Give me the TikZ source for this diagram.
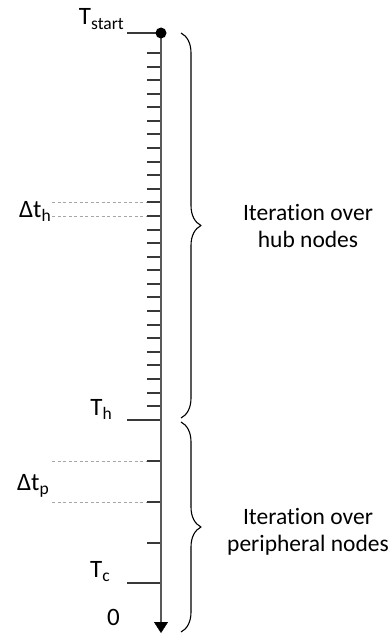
\documentclass[tikz,border=0pt]{standalone}
\usepackage{fontspec}
\setmainfont{Carlito}[Ligatures=NoCommon]
\usetikzlibrary{arrows.meta,decorations.pathreplacing}
\newcommand{\lowidx}[1]{\raisebox{-4.5pt}{\fontsize{17.5}{17.5}\selectfont #1}}
\tikzset{
	axisline/.style={line width=2.2, color=black!65},
	tickmark/.style={line width=2, color=black!78},
	gapline/.style={line width=0.8, color=black!35, dash pattern=on 3pt off 2.5pt},
	curly/.style={decorate, decoration={brace, amplitude=20pt}, line width=1.1},
	lab/.style={inner sep=0, font=\fontsize{23.5}{27}\selectfont},
	timelab/.style={inner sep=0, font=\fontsize{25}{27}\selectfont},
}
\begin{document}
		\begin{tikzpicture}[x=1pt, y=-1pt, line join=round, >=stealth]
			\useasboundingbox (0,0) rectangle (388,634);
			% ticks of the hub part
			\foreach \k in {0,...,26}
				\draw[tickmark] (147,{53+13.58*\k}) -- (161,{53+13.58*\k});
			% ticks of the peripheral part
			\foreach \y in {461,502,543}
				\draw[tickmark] (147,\y) -- (161,\y);
			\coordinate (start) at (161,33);
			\coordinate (hub) at (161,420);
			\coordinate (cut) at (161,583);
			\coordinate (zero) at (161,633);
			\draw[tickmark] (127,33) -- (start);
			\draw[tickmark] (127,420) -- (hub);
			\draw[tickmark] (127,583) -- (cut);
			\draw[axisline] (start) -- (161,624);
			\draw[black, -{Triangle[width=14pt, length=11pt]}] (161,622) -- (zero);
			\fill (start) circle (5.5);
			% step widths
			\draw[gapline] (52,202) -- (147,202) (52,216) -- (147,216);
			\draw[gapline] (52,461) -- (147,461) (52,502) -- (147,502);
			% labels
			\node[timelab, anchor=base east] (tstart) at (124,25) {T\lowidx{start}};
			\node[timelab, anchor=base east] (dth) at (51,217) {Δt\lowidx{h}};
			\node[timelab, anchor=base east] (th) at (112,415) {T\lowidx{h}};
			\node[timelab, anchor=base east] (dtp) at (49,490) {Δt\lowidx{p}};
			\node[timelab, anchor=base east] (tc) at (110,577) {T\lowidx{c}};
			\node[timelab, anchor=base east] (nil) at (120,625) {0};
			% braces
			\draw[curly] (181,33) -- (181,418);
			\draw[curly] (181,422) -- (181,632);
			\node[lab, align=center] (hubtext) at (308,226) {Iteration over\\hub nodes};
			\node[lab, align=center] (peritext) at (308,532) {Iteration over\\peripheral nodes};
		\end{tikzpicture}
\end{document}
